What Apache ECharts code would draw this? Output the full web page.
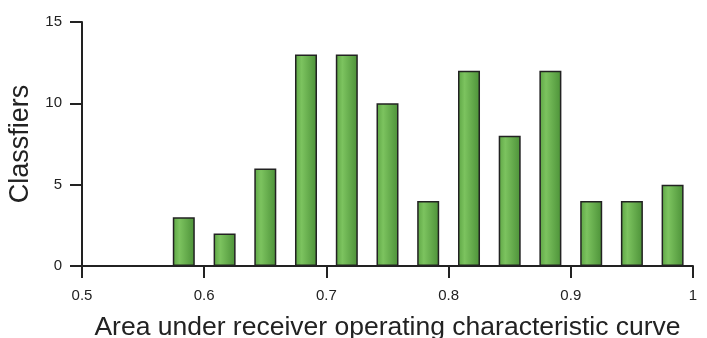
<!DOCTYPE html>
<html><head><meta charset="utf-8">
<script src="https://cdn.jsdelivr.net/npm/echarts@6/dist/echarts.min.js"></script>
<style>html,body{margin:0;padding:0;background:#fff}#c{width:707px;height:338px}</style>
</head><body><div id="c"></div>
<script>
const binCenters = [0.5167, 0.55, 0.5833, 0.6167, 0.65, 0.6833, 0.7167, 0.75, 0.7833, 0.8167, 0.85, 0.8833, 0.9167, 0.95, 0.9833];
const classifierCounts = [0, 0, 3, 2, 6, 13, 13, 10, 4, 12, 8, 12, 4, 4, 5];
const xTicks = [0.5, 0.6, 0.7, 0.8, 0.9, 1];
const yTicks = [0, 5, 10, 15];

const chart = echarts.init(document.getElementById('c'), null, {renderer: 'canvas'});
const font = 'Liberation Sans, Arial, Helvetica, sans-serif';
chart.setOption({
  animation: false,
  grid: {left: 82, right: 14, top: 22, bottom: 72, containLabel: false, outerBoundsMode: 'none'},
  xAxis: {
    type: 'value', min: xTicks[0], max: xTicks[xTicks.length-1], interval: 0.1,
    name: 'Area under receiver operating characteristic curve',
    nameLocation: 'middle', nameGap: 48,
    nameTextStyle: {fontFamily: font, fontSize: 26.5, color: '#222'},
    axisLine: {show: true, lineStyle: {color: '#222', width: 2}},
    axisTick: {show: true, length: 12, lineStyle: {color: '#222', width: 2}},
    axisLabel: {fontFamily: font, fontSize: 15, color: '#222', margin: 22,
      formatter: v => { const r = Math.round(v*10)/10; return xTicks.some(t => Math.abs(t-r)<1e-9) ? String(r) : ''; }},
    splitLine: {show: false}
  },
  yAxis: {
    type: 'value', min: yTicks[0], max: yTicks[yTicks.length-1], interval: 5,
    name: 'Classfiers', nameLocation: 'middle', nameGap: 43,
    nameTextStyle: {fontFamily: font, fontSize: 27, color: '#222'},
    axisLine: {show: true, lineStyle: {color: '#222', width: 2}},
    axisTick: {show: true, length: 12, lineStyle: {color: '#222', width: 2}},
    axisLabel: {fontFamily: font, fontSize: 15, color: '#222', margin: 20},
    splitLine: {show: false}
  },
  series: [{
    type: 'bar',
    barWidth: 22,
    data: binCenters.map((x, i) => [x, classifierCounts[i]]),
    itemStyle: {
      borderColor: '#222', borderWidth: 1.5,
      color: new echarts.graphic.LinearGradient(0, 0, 1, 0, [
        {offset: 0, color: '#5da544'},
        {offset: 0.3, color: '#7cc35f'},
        {offset: 1, color: '#4c9138'}
      ])
    }
  }]
});
</script></body></html>
